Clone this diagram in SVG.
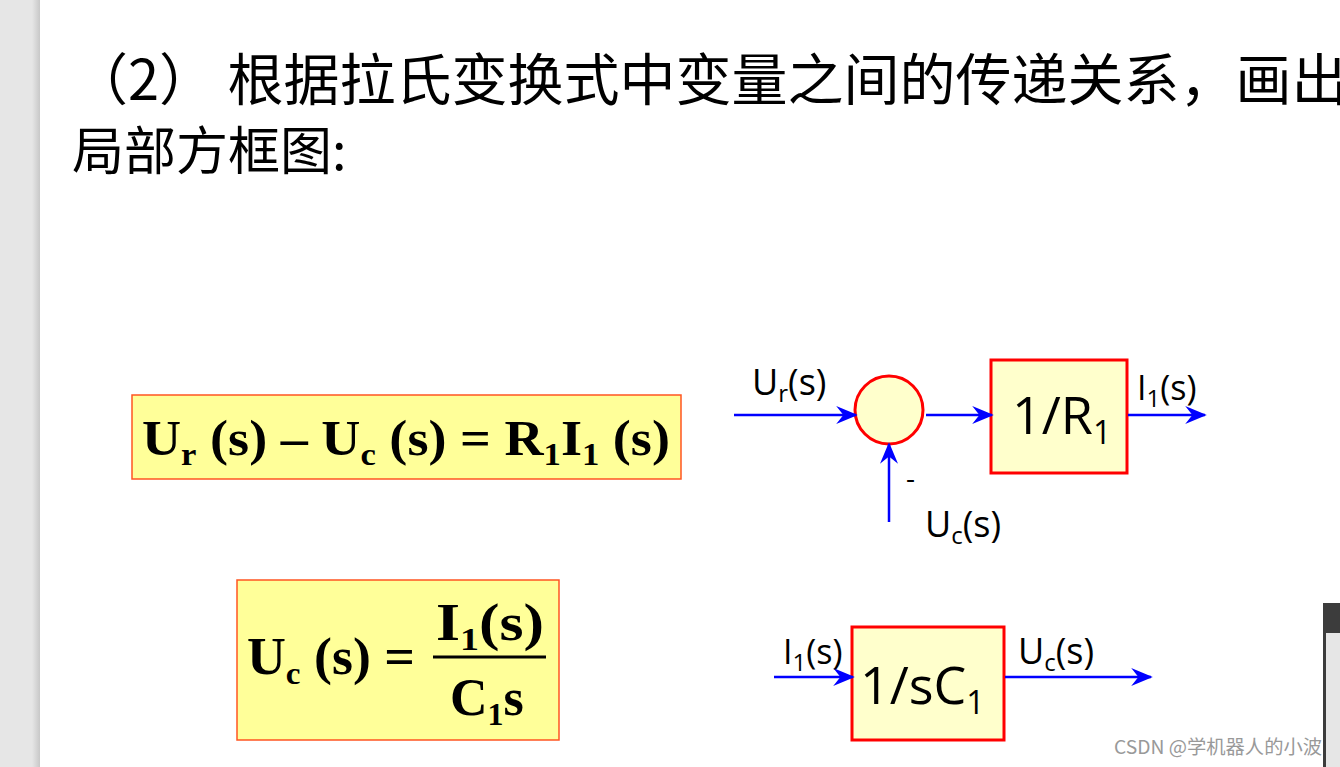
<svg xmlns="http://www.w3.org/2000/svg" width="1340" height="767" viewBox="0 0 1340 767">
<style>
.t{font-family:"Noto Sans CJK SC","Noto Sans",sans-serif;fill:#000}
.eq{font-family:"Liberation Serif",serif;font-weight:bold;fill:#000}
.lb{font-family:"Open Sans","Noto Sans",sans-serif;fill:#000}
.blk{fill:#ffffcc;stroke:#ff0000;stroke-width:3}
.ln{stroke:#0000ff;stroke-width:2.5;fill:none;marker-end:url(#a)}
</style>
<defs><marker id="a" viewBox="0 0 12 10" refX="11" refY="5" markerWidth="22" markerHeight="18" markerUnits="userSpaceOnUse" orient="auto"><path d="M0,0 L12,5 L0,10 L4,5 Z" fill="#0000ff"/></marker>
<linearGradient id="sh" x1="0" x2="1"><stop offset="0" stop-color="#e6e6e6"/><stop offset="0.8" stop-color="#e6e6e6"/><stop offset="1" stop-color="#c8c8c8"/></linearGradient></defs>
<rect width="1340" height="767" fill="#fff"/>
<rect x="0" y="0" width="40" height="767" fill="url(#sh)"/>
<text class="t" x="72" y="100" font-size="56">（2） 根据拉氏变换式中变量之间的传递关系，画出</text>
<text class="t" x="72" y="170" font-size="52">局部方框图:</text>
<g id="eq1"><rect x="132" y="395" width="549" height="84" fill="#ffff99" stroke="#ff5522" stroke-width="1.5"/>
<text class="eq" x="142" y="455" font-size="50" textLength="528" lengthAdjust="spacingAndGlyphs">U<tspan font-size="32" dy="10">r</tspan><tspan dy="-10"> (s) – U</tspan><tspan font-size="32" dy="10">c</tspan><tspan dy="-10"> (s) = R</tspan><tspan font-size="32" dy="10">1</tspan><tspan dy="-10">I</tspan><tspan font-size="32" dy="10">1</tspan><tspan dy="-10"> (s)</tspan></text></g>
<g id="eq2"><rect x="237" y="580" width="322" height="160" fill="#ffff99" stroke="#ff5522" stroke-width="1.5"/>
<text class="eq" x="247" y="674" font-size="52" textLength="168" lengthAdjust="spacingAndGlyphs">U<tspan font-size="32" dy="10">c</tspan><tspan dy="-10"> (s) =</tspan></text>
<text class="eq" x="436" y="640" font-size="52" textLength="108" lengthAdjust="spacingAndGlyphs">I<tspan font-size="32" dy="10">1</tspan><tspan dy="-10">(s)</tspan></text>
<line x1="433" y1="657" x2="546" y2="657" stroke="#000" stroke-width="3"/>
<text class="eq" x="450" y="715" font-size="52">C<tspan font-size="32" dy="10">1</tspan><tspan dy="-10">s</tspan></text></g>
<g id="sum"><circle cx="889" cy="410" r="34" fill="#ffffcc" stroke="#ff0000" stroke-width="3"/></g>
<g id="r1"><rect x="991" y="360" width="136" height="113" class="blk"/><text class="lb" x="1012" y="434" font-size="52">1/R<tspan font-size="32" dy="10">1</tspan></text></g>
<g id="c1"><rect x="852" y="627" width="152" height="113" class="blk"/><text class="lb" x="860" y="704" font-size="52">1/sC<tspan font-size="32" dy="10">1</tspan></text></g>
<g id="connectors">
<line class="ln" x1="734" y1="415" x2="856" y2="415"/>
<line class="ln" x1="926" y1="415" x2="992" y2="415"/>
<line class="ln" x1="1128" y1="415" x2="1205" y2="415"/>
<line class="ln" x1="889" y1="522" x2="889" y2="444"/>
<line class="ln" x1="774" y1="677" x2="853" y2="677"/>
<line class="ln" x1="1005" y1="677" x2="1151" y2="677"/>
</g>
<text class="lb" x="752" y="395" font-size="36">U<tspan font-size="24" dy="7">r</tspan><tspan dy="-7">(s)</tspan></text>
<text class="lb" x="1137" y="400" font-size="34">I<tspan font-size="24" dy="7">1</tspan><tspan dy="-7">(s)</tspan></text>
<text class="lb" x="906" y="488" font-size="28">-</text>
<text class="lb" x="925" y="537" font-size="36">U<tspan font-size="24" dy="7">c</tspan><tspan dy="-7">(s)</tspan></text>
<text class="lb" x="783" y="664" font-size="34">I<tspan font-size="24" dy="7">1</tspan><tspan dy="-7">(s)</tspan></text>
<text class="lb" x="1018" y="664" font-size="36">U<tspan font-size="24" dy="7">c</tspan><tspan dy="-7">(s)</tspan></text>
<rect x="1323" y="603" width="17" height="164" fill="#e6e6e6"/>
<rect x="1323" y="603" width="17" height="30" fill="#3c3c3c"/>
<rect x="1323" y="603" width="3" height="164" fill="#3c3c3c"/>
<text x="1114" y="754" font-size="19" fill="#999" font-family="'Noto Sans CJK SC',sans-serif" textLength="208" lengthAdjust="spacingAndGlyphs">CSDN @学机器人的小波</text>
</svg>
